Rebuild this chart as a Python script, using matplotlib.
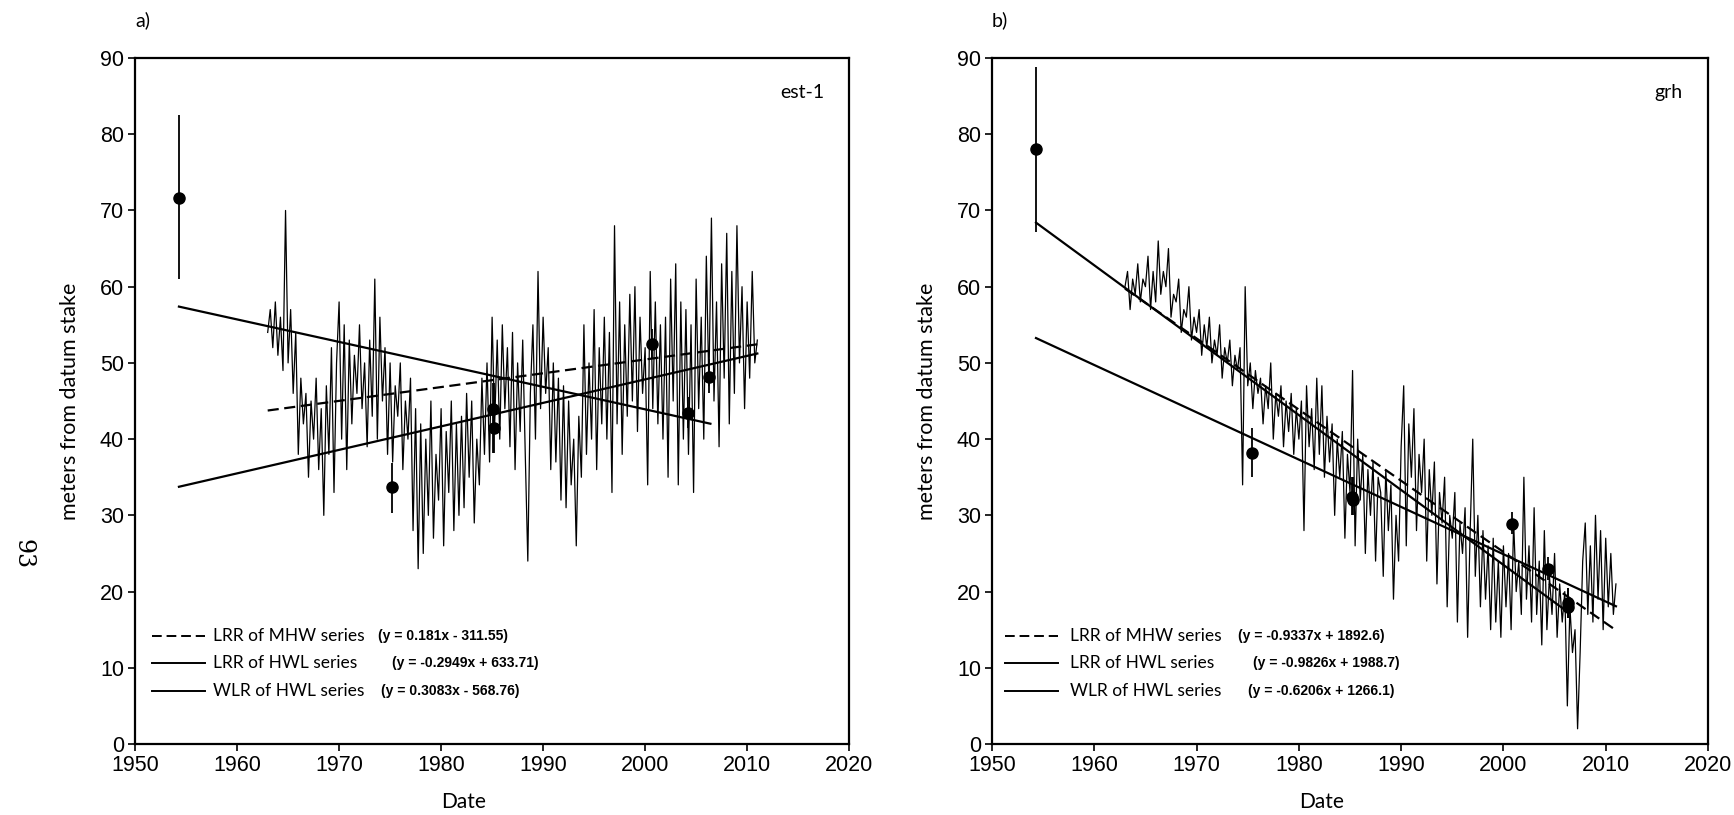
import matplotlib
matplotlib.use("Agg")
import matplotlib.pyplot as plt
import numpy as np

# ---- data ----
# high water line positions (m), 4 readings a year starting 1963
start_year = 1963.0
hwl_a = [54, 57, 52, 58,  51, 56, 49, 70,  50, 57, 46, 54,  38, 48, 42, 46,   # 1963-66
         35, 45, 40, 48,  36, 44, 30, 47,  38, 52, 33, 50,  58, 40, 55, 36,   # 1967-70
         53, 42, 51, 46,  55, 44, 50, 39,  53, 43, 61, 40,  56, 45, 52, 38,   # 1971-74
         50, 37, 47, 43,  50, 36, 45, 40,  48, 28, 44, 23,  42, 25, 40, 30,   # 1975-78
         45, 27, 38, 32,  44, 26, 41, 33,  45, 28, 42, 30,  43, 31, 46, 35,   # 1979-82
         45, 29, 40, 34,  48, 38, 50, 37,  56, 42, 53, 40,  55, 44, 52, 39,   # 1983-86
         54, 36, 50, 41,  53, 38, 24, 46,  55, 40, 62, 44,  56, 46, 52, 36,   # 1987-90
         50, 37, 48, 32,  47, 31, 45, 34,  40, 26, 43, 35,  55, 38, 50, 40,   # 1991-94
         57, 36, 52, 42,  56, 40, 54, 33,  68, 42, 58, 38,  55, 43, 59, 45,   # 1995-98
         60, 41, 56, 46,  52, 34, 62, 44,  58, 42, 55, 40,  56, 35, 61, 45,   # 1999-02
         63, 34, 58, 40,  57, 38, 55, 33,  61, 44, 56, 40,  64, 47, 69, 45,   # 2003-06
         58, 39, 63, 48,  67, 42, 62, 46,  68, 50, 60, 44,  58, 48, 62, 50,   # 2007-10
         53]
hwl_b = [60, 62, 57, 61,  59, 63, 58, 61,  60, 64, 57, 62,  58, 66, 59, 62,   # 1963-66
         60, 65, 56, 59,  58, 61, 54, 57,  56, 60, 53, 56,  54, 57, 51, 55,   # 1967-70
         52, 56, 50, 53,  51, 55, 48, 52,  50, 53, 47, 51,  49, 52, 34, 60,   # 1971-74
         47, 50, 44, 49,  46, 48, 42, 47,  44, 50, 40, 46,  43, 47, 39, 45,   # 1975-78
         41, 46, 38, 44,  40, 45, 28, 47,  39, 44, 36, 48,  38, 47, 35, 43,   # 1979-82
         37, 42, 30, 40,  35, 41, 27, 38,  33, 49, 26, 40,  32, 38, 25, 36,   # 1983-86
         30, 37, 24, 35,  33, 22, 36, 28,  34, 19, 30, 24,  39, 47, 26, 42,   # 1987-90
         35, 44, 28, 38,  33, 40, 24, 36,  30, 37, 21, 33,  29, 35, 18, 30,   # 1991-94
         27, 33, 16, 29,  25, 31, 14, 28,  40, 22, 30, 18,  28, 19, 26, 15,   # 1995-98
         27, 16, 24, 14,  26, 18, 25, 15,  29, 20, 24, 17,  35, 19, 26, 16,   # 1999-02
         31, 17, 24, 13,  28, 15, 22, 17,  25, 14, 21, 16,  20, 5, 18, 12,    # 2003-06
         15, 2, 12, 24,   29, 17, 26, 16,  30, 19, 28, 15,  27, 18, 25, 17,   # 2007-10
         21]

# surveyed shoreline points with error bars
pt_year_a = [1954.3, 1975.2, 1985.1, 1985.2, 2000.7, 2004.2, 2006.3]
pt_val_a = [71.6, 33.7, 44.0, 41.5, 52.5, 43.4, 48.2]
pt_lo_a = [61.0, 30.3, 38.2, 38.2, 50.5, 41.5, 46.0]
pt_hi_a = [82.5, 36.9, 47.4, 47.4, 54.5, 45.5, 50.5]

pt_year_b = [1954.3, 1975.4, 1985.2, 1985.3, 2000.8, 2004.4, 2006.3, 2006.3]
pt_val_b = [78.0, 38.2, 32.4, 32.0, 28.8, 23.0, 18.5, 18.0]
pt_lo_b = [67.2, 35.0, 30.0, 30.0, 27.5, 21.5, 16.5, 16.5]
pt_hi_b = [88.8, 41.4, 35.0, 35.0, 30.5, 24.5, 20.5, 20.5]

# regression lines: slope, intercept, first year, last year
fit_names = ["LRR of MHW series", "LRR of HWL series", "WLR of HWL series"]
slope_a = [0.181, -0.2949, 0.3083]
icpt_a = [-311.55, 633.71, -568.76]
slope_b = [-0.9337, -0.9826, -0.6206]
icpt_b = [1892.6, 1988.7, 1266.1]
fit_x0 = [1963.0, 1954.3, 1954.3]
fit_x1 = [2011.0, 2006.4, 2011.0]
eq_a = ["(y = 0.181x - 311.55)", "(y = -0.2949x + 633.71)", "(y = 0.3083x - 568.76)"]
eq_b = ["(y = -0.9337x + 1892.6)", "(y = -0.9826x + 1988.7)", "(y = -0.6206x + 1266.1)"]

tick_font = "Liberation Sans"
text_font = "Lato"

fig = plt.figure(figsize=(17.34, 8.15), dpi=100)
ax1 = fig.add_axes([0.0779, 0.0871, 0.4118, 0.8417])
ax2 = fig.add_axes([0.5721, 0.0871, 0.4129, 0.8417])


def draw_panel(ax, hwl, px, py, plo, phi, slopes, icpts, eqs, site, letter,
               eq_x, leg_x):
    x = start_year + np.arange(len(hwl)) * 0.25
    ax.plot(x, hwl, color="black", lw=0.9)

    styles = [(0, (5, 2.5)), "-", "-"]
    for i in range(3):
        xs = np.array([fit_x0[i], fit_x1[i]])
        ax.plot(xs, slopes[i] * xs + icpts[i], color="black", lw=1.6,
                linestyle=styles[i])

    yerr = [np.array(py) - np.array(plo), np.array(phi) - np.array(py)]
    ax.errorbar(px, py, yerr=yerr, fmt="o", color="black", ms=8,
                elinewidth=1.3, capsize=0)

    ax.set_xlim(1950, 2020)
    ax.set_ylim(0, 90)
    ax.set_xticks(range(1950, 2021, 10))
    ax.set_yticks(range(0, 91, 10))
    ax.tick_params(direction="out", length=5, width=1.2, labelsize=15.5, pad=3)
    for lab in ax.get_xticklabels() + ax.get_yticklabels():
        lab.set_family(tick_font)
    for sp in ax.spines.values():
        sp.set_linewidth(1.6)

    ax.set_xlabel("Date", fontsize=15, family=text_font)
    ax.xaxis.set_label_coords(0.46, -0.07)
    ax.set_ylabel("meters from datum stake", fontsize=15.5, family=text_font)
    ax.yaxis.set_label_coords(-0.077, 0.5)

    ax.text(0.965, 0.95, site, transform=ax.transAxes, ha="right", va="center",
            fontsize=14, family=text_font)
    ax.text(0.0, 1.055, letter, transform=ax.transAxes, ha="left", va="center",
            fontsize=14, family=text_font)

    # hand made legend
    rows = [0.157, 0.118, 0.077]
    for i in range(3):
        ax.plot(leg_x, [rows[i], rows[i]], transform=ax.transAxes,
                color="black", lw=1.4, linestyle=styles[i])
        ax.text(0.109, rows[i], fit_names[i], transform=ax.transAxes,
                ha="left", va="center", fontsize=12.5, family=text_font)
        ax.text(eq_x[i], rows[i], eqs[i], transform=ax.transAxes,
                ha="left", va="center", fontsize=10, weight="bold",
                family=tick_font)


draw_panel(ax1, hwl_a, pt_year_a, pt_val_a, pt_lo_a, pt_hi_a, slope_a, icpt_a,
           eq_a, "est-1", "a)", [0.340, 0.360, 0.345], [0.024, 0.098])
draw_panel(ax2, hwl_b, pt_year_b, pt_val_b, pt_lo_b, pt_hi_b, slope_b, icpt_b,
           eq_b, "grh", "b)", [0.344, 0.365, 0.357], [0.018, 0.092])

# page number of the scanned thesis page
fig.text(0.013, 0.32, "93", rotation=270, fontsize=17, family="DejaVu Serif",
         ha="center", va="center")

fig.savefig("out.png", dpi=100)
